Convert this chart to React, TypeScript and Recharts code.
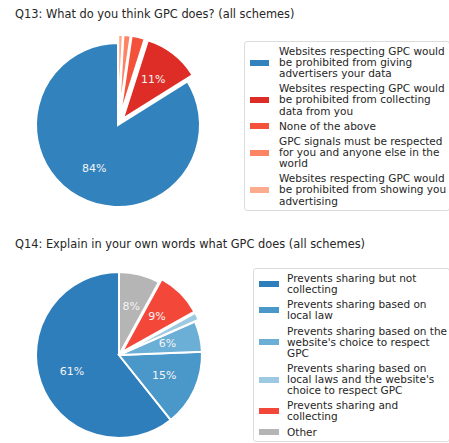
import React from 'react'
import { PieChart, Pie, Cell } from 'recharts'

const q13Labels = [
  'Websites respecting GPC would be prohibited from giving advertisers your data',
  'Websites respecting GPC would be prohibited from collecting data from you',
  'None of the above',
  'GPC signals must be respected for you and anyone else in the world',
  'Websites respecting GPC would be prohibited from showing you advertising',
]
const q13Lines = [
  ['Websites respecting GPC would', 'be prohibited from giving', 'advertisers your data'],
  ['Websites respecting GPC would', 'be prohibited from collecting', 'data from you'],
  ['None of the above'],
  ['GPC signals must be respected', 'for you and anyone else in the', 'world'],
  ['Websites respecting GPC would', 'be prohibited from showing you', 'advertising'],
]
const q13Values = [83.9, 11.2, 2.6, 1.4, 0.9]
const q13Colors = ['#3182bd', '#de2d26', '#f4513a', '#fc8363', '#fcab8f']
const q13Explode = [0, 0.1, 0.1, 0.1, 0.1]

const q14Labels = [
  'Prevents sharing but not collecting',
  'Prevents sharing based on local law',
  "Prevents sharing based on the website's choice to respect GPC",
  "Prevents sharing based on local laws and the website's choice to respect GPC",
  'Prevents sharing and collecting',
  'Other',
]
const q14Lines = [
  ['Prevents sharing but not', 'collecting'],
  ['Prevents sharing based on', 'local law'],
  ['Prevents sharing based on the', "website's choice to respect", 'GPC'],
  ['Prevents sharing based on', "local laws and the website's", 'choice to respect GPC'],
  ['Prevents sharing and', 'collecting'],
  ['Other'],
]
const q14Values = [61, 15, 6, 1.5, 9, 8]
const q14Colors = ['#2f7ebc', '#4a97c9', '#6baed6', '#9ecae1', '#f3473a', '#b5b5b5']
const q14Explode = [0, 0, 0, 0.05, 0.05, 0]

const FONT = '"DejaVu Sans", sans-serif'
const TEXT = '#262626'

interface ExplodedPieProps {
  labels: string[]
  values: number[]
  colors: string[]
  explode: number[]
  cx: number
  cy: number
  r: number
  width: number
  height: number
}

// one Pie per slice so each slice can be pushed out along its mid angle
const ExplodedPie: React.FC<ExplodedPieProps> = ({ labels, values, colors, explode, cx, cy, r, width, height }) => {
  const data = labels.map((name, i) => ({ name, value: values[i] }))
  const total = values.reduce((a, b) => a + b, 0)
  let cum = 0
  const offsets = values.map((v, i) => {
    const mid = ((90 + ((cum + v / 2) / total) * 360) * Math.PI) / 180
    cum += v
    return { dx: explode[i] * r * Math.cos(mid), dy: -explode[i] * r * Math.sin(mid) }
  })

  return (
    <PieChart width={width} height={height} margin={{ top: 0, right: 0, bottom: 0, left: 0 }}>
      {values.map((_, k) => (
        <Pie
          key={k}
          data={data}
          dataKey="value"
          cx={cx + offsets[k].dx}
          cy={cy + offsets[k].dy}
          outerRadius={r}
          startAngle={90}
          endAngle={450}
          isAnimationActive={false}
          labelLine={false}
          label={(p: any) => {
            if (p.index !== k || p.percent < 0.05) return null
            const rad = (-p.midAngle * Math.PI) / 180
            const x = p.cx + p.outerRadius * 0.6 * Math.cos(rad)
            const y = p.cy + p.outerRadius * 0.6 * Math.sin(rad)
            return (
              <text x={x} y={y} fill="#f4f4f4" fontSize={11} fontFamily={FONT} textAnchor="middle" dominantBaseline="central">
                {`${Math.round(p.percent * 100)}%`}
              </text>
            )
          }}
        >
          {data.map((d, i) => (
            <Cell
              key={d.name}
              fill={i === k ? colors[i] : 'none'}
              stroke={i === k ? '#ffffff' : 'none'}
              strokeWidth={2}
            />
          ))}
        </Pie>
      ))}
    </PieChart>
  )
}

const LegendBox: React.FC<{ lines: string[][]; colors: string[]; left: number; top: number; width: number; textX: number; patchW: number }> = ({ lines, colors, left, top, width, textX, patchW }) => (
  <div
    style={{
      position: 'absolute',
      left,
      top,
      width,
      border: '1px solid #dcdcdc',
      borderRadius: 3,
      padding: '4px 0 3px 0',
      boxSizing: 'border-box',
      background: '#fff',
    }}
  >
    {lines.map((entry, i) => (
      <div key={i} style={{ position: 'relative', marginBottom: i < lines.length - 1 ? 4.1 : 0 }}>
        <div
          style={{
            position: 'absolute',
            left: 5,
            top: '50%',
            marginTop: -3,
            width: patchW,
            height: 6,
            background: colors[i],
          }}
        />
        <div style={{ paddingLeft: textX, fontFamily: FONT, fontSize: 10.5, lineHeight: '11.1px', color: TEXT, whiteSpace: 'nowrap' }}>
          {entry.map((l, j) => (
            <div key={j}>{l}</div>
          ))}
        </div>
      </div>
    ))}
  </div>
)

export default function App() {
  return (
    <div style={{ position: 'absolute', left: 0, top: 0, width: 449, height: 443, overflow: 'hidden', background: '#fff' }}>
      <div style={{ position: 'absolute', left: 15, top: 7, fontFamily: FONT, fontSize: 11.4, color: TEXT, whiteSpace: 'nowrap' }}>
        Q13: What do you think GPC does? (all schemes)
      </div>
      <div style={{ position: 'absolute', left: 0, top: 0 }}>
        <ExplodedPie labels={q13Labels} values={q13Values} colors={q13Colors} explode={q13Explode} cx={118} cy={125} r={82} width={240} height={220} />
      </div>
      <LegendBox lines={q13Lines} colors={q13Colors} left={244} top={41} width={206} textX={34} patchW={19} />

      <div style={{ position: 'absolute', left: 15, top: 237, fontFamily: FONT, fontSize: 11.4, color: TEXT, whiteSpace: 'nowrap' }}>
        Q14: Explain in your own words what GPC does (all schemes)
      </div>
      <div style={{ position: 'absolute', left: 0, top: 220 }}>
        <ExplodedPie labels={q14Labels} values={q14Values} colors={q14Colors} explode={q14Explode} cx={119} cy={135} r={83} width={240} height={223} />
      </div>
      <LegendBox lines={q14Lines} colors={q14Colors} left={253} top={268} width={197} textX={33} patchW={20} />
    </div>
  )
}
